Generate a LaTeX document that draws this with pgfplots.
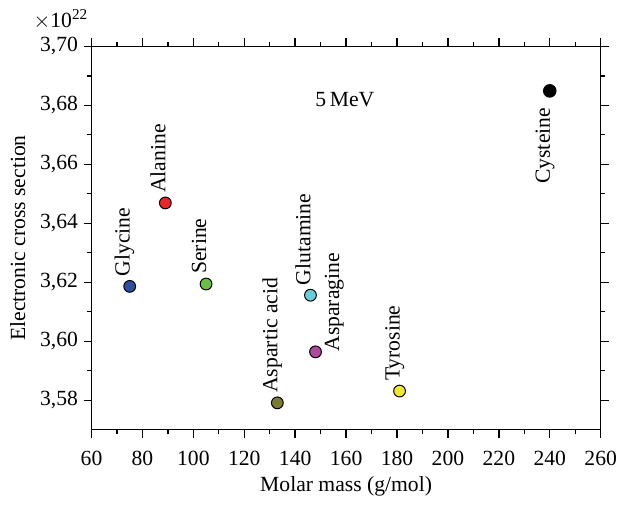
\documentclass[border=0pt]{standalone}
\usepackage{pgfplots}
\pgfplotsset{compat=1.18}
\usepackage{fontspec}
\setmainfont{Liberation Serif}
\definecolor{cgly}{HTML}{2E4E9E}
\definecolor{cala}{HTML}{E8262A}
\definecolor{cser}{HTML}{6BBE45}
\definecolor{casp}{HTML}{7A7A30}
\definecolor{cglu}{HTML}{6CCBD8}
\definecolor{casn}{HTML}{B04A9E}
\definecolor{ctyr}{HTML}{F0E830}
\definecolor{ccys}{HTML}{000000}
\begin{document}
\fontsize{11}{13}\selectfont
\begin{tikzpicture}
\begin{axis}[
  scale only axis,
  width=259pt, height=195pt,
  xmin=60, xmax=260, ymin=3.57, ymax=3.70,
  xtick={60,80,...,260},
  minor x tick num=1,
  ytick={3.58,3.60,...,3.70},
  minor y tick num=1,
  tick align=outside,
  major tick length=4pt,
  minor tick length=2.2pt,
  axis line style={line width=0.8pt},
  every tick/.style={black, line width=0.7pt},
  scaled y ticks=false,
  /pgf/number format/assume math mode=true,
  yticklabel style={xshift=1pt, /pgf/number format/fixed, /pgf/number format/fixed zerofill, /pgf/number format/precision=2, /pgf/number format/use comma},
  xticklabel style={yshift=-3pt, /pgf/number format/fixed, /pgf/number format/precision=0},
  tick label style={font=\fontsize{11}{13}\selectfont},
  label style={font=\fontsize{11}{13}\selectfont},
  xlabel={Molar mass (g/mol)},
  xlabel style={yshift=2pt},
  ylabel={Electronic cross section},
  clip=false,
]
\addplot[only marks, mark=*, mark size=3pt, mark options={fill=cgly, draw=black, line width=0.5pt}] coordinates {(75,3.6186)};
\addplot[only marks, mark=*, mark size=3pt, mark options={fill=cala, draw=black, line width=0.5pt}] coordinates {(89,3.6469)};
\addplot[only marks, mark=*, mark size=3pt, mark options={fill=cser, draw=black, line width=0.5pt}] coordinates {(105,3.6194)};
\addplot[only marks, mark=*, mark size=3pt, mark options={fill=casp, draw=black, line width=0.5pt}] coordinates {(133,3.5791)};
\addplot[only marks, mark=*, mark size=3pt, mark options={fill=cglu, draw=black, line width=0.5pt}] coordinates {(146,3.6156)};
\addplot[only marks, mark=*, mark size=3pt, mark options={fill=casn, draw=black, line width=0.5pt}] coordinates {(148,3.5964)};
\addplot[only marks, mark=*, mark size=3pt, mark options={fill=ctyr, draw=black, line width=0.5pt}] coordinates {(181,3.5831)};
\addplot[only marks, mark=*, mark size=3.2pt, mark options={fill=ccys, draw=black, line width=0.5pt}] coordinates {(240,3.6849)};
\node[rotate=90, anchor=base west, inner sep=0pt] at ([yshift=5pt]axis cs:75,3.6186) {Glycine};
\node[rotate=90, anchor=base west, inner sep=0pt] at ([yshift=5pt]axis cs:89,3.6469) {Alanine};
\node[rotate=90, anchor=base west, inner sep=0pt] at ([yshift=5pt]axis cs:105,3.6194) {Serine};
\node[rotate=90, anchor=base west, inner sep=0pt] at ([yshift=5pt]axis cs:133,3.5791) {Aspartic acid};
\node[rotate=90, anchor=base west, inner sep=0pt] at ([yshift=5pt]axis cs:146,3.6156) {Glutamine};
\node[rotate=90, anchor=north west, inner sep=0pt] at ([xshift=4.5pt]axis cs:148,3.5964) {Asparagine};
\node[rotate=90, anchor=base west, inner sep=0pt] at ([yshift=5pt]axis cs:181,3.5831) {Tyrosine};
\node[rotate=90, anchor=base east, inner sep=0pt] at ([yshift=-8.5pt]axis cs:240,3.6849) {Cysteine};
\node at (axis cs:159.5,3.6821) {5\,MeV};
\node[anchor=base east, inner sep=0pt] at ([xshift=-1.5pt,yshift=9.5pt]rel axis cs:0,1) {$\times$10\textsuperscript{22}};
\end{axis}
\path ([xshift=-1.5pt,yshift=5pt]current bounding box.north west) ([xshift=3pt,yshift=-1pt]current bounding box.south east);
\end{tikzpicture}
\end{document}
